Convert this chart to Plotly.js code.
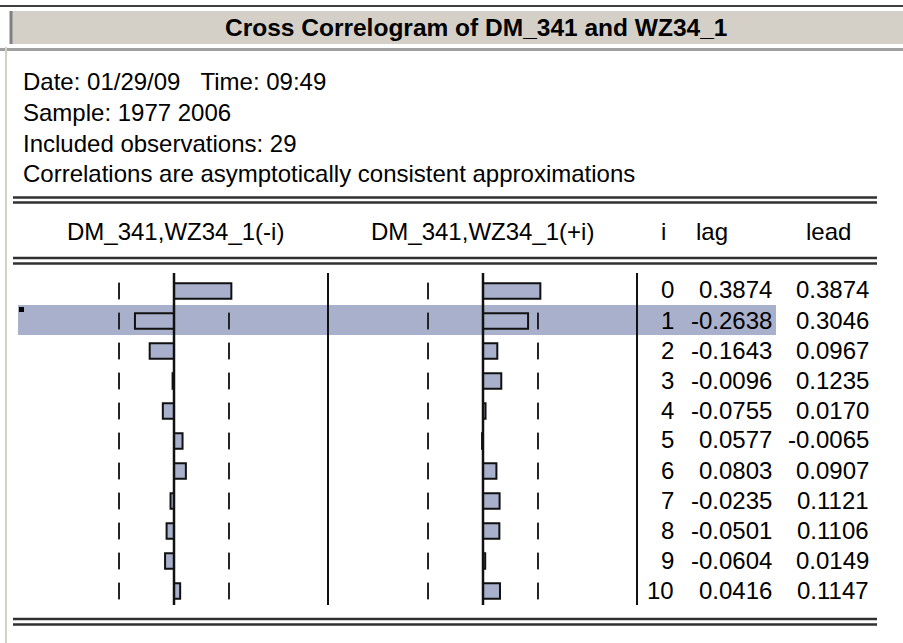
<!DOCTYPE html>
<html>
<head>
<meta charset="utf-8">
<script src="https://cdn.plot.ly/plotly-3.0.1.min.js"></script>
<style>html,body{margin:0;padding:0;background:#fff;}#chart{width:903px;height:643px;}</style>
</head>
<body>
<div id="chart"></div>
<script>
// ---- data ----
const title = "Cross Correlogram of DM_341 and WZ34_1";
const infoLines = [
  "Date: 01/29/09   Time: 09:49",
  "Sample: 1977 2006",
  "Included observations: 29",
  "Correlations are asymptotically consistent approximations"
];
const headers = ["DM_341,WZ34_1(-i)", "DM_341,WZ34_1(+i)", "i", "lag", "lead"];
const lagIndex = [0, 1, 2, 3, 4, 5, 6, 7, 8, 9, 10];
const lagCorr  = [0.3874, -0.2638, -0.1643, -0.0096, -0.0755, 0.0577, 0.0803, -0.0235, -0.0501, -0.0604, 0.0416];
const leadCorr = [0.3874, 0.3046, 0.0967, 0.1235, 0.0170, -0.0065, 0.0907, 0.1121, 0.1106, 0.0149, 0.1147];
const nObs = 29;
const selectedRow = 1;

// ---- geometry helpers (pixel -> paper) ----
const W = 903, H = 643;
const px = x => x / W;
const py = y => 1 - y / H;
const bound = 2 / Math.sqrt(nObs);
const SCALE = 148;          // px per correlation unit
const ROW0 = 291, ROWH = 30; // row 0 centre (px), row spacing
const zeroL = 174, zeroR = 483, sep1 = 328, sep2 = 637;

const font = "Liberation Sans, Arial, sans-serif";
const barFill = "#a9b0cb";

const traces = [
  {type: "bar", orientation: "h", x: lagCorr, y: lagIndex, xaxis: "x", yaxis: "y",
   width: 0.52, marker: {color: barFill, line: {color: "#111", width: 2}}, hoverinfo: "skip"},
  {type: "bar", orientation: "h", x: leadCorr, y: lagIndex, xaxis: "x2", yaxis: "y",
   width: 0.52, marker: {color: barFill, line: {color: "#111", width: 2}}, hoverinfo: "skip"}
];
// significance bound ticks (hidden where a bar covers them)
[["x", -1, lagCorr], ["x", 1, lagCorr], ["x2", -1, leadCorr], ["x2", 1, leadCorr]].forEach(([ax, s, vals]) => {
  const ys = lagIndex.filter((k, r) => !(vals[r] * s >= bound));
  traces.push({type: "scatter", mode: "markers", xaxis: ax, yaxis: "y",
    x: ys.map(() => s * bound), y: ys,
    marker: {symbol: "line-ns", size: 12, line: {color: "#222", width: 2}}, hoverinfo: "skip"});
});

const shapes = [];
const line = (x0, y0, x1, y1, color, w) => shapes.push({type: "line", xref: "paper", yref: "paper",
  x0: px(x0), y0: py(y0), x1: px(x1), y1: py(y1), line: {color: color, width: w}});
const rect = (x0, y0, x1, y1, color, layer) => shapes.push({type: "rect", xref: "paper", yref: "paper",
  x0: px(x0), y0: py(y0), x1: px(x1), y1: py(y1), fillcolor: color, line: {width: 0}, layer: layer || "below"});

// window chrome
line(0, 6, W, 6, "#404040", 2);
rect(10, 11, W, 44, "#d4d0c8");
line(11, 11, 11, 44, "#808080", 3);
line(10, 45, W, 45, "#ffffff", 2);
line(0, 49.5, W, 49.5, "#a0a0a0", 3);
line(6, 47, 6, H, "#d4d0c8", 2);
// table rules
[197.5, 202.5, 258, 263.5, 619, 624.5].forEach(y => line(13, y, 877, y, "#303030", 2.5));
// highlight of selected row
rect(18, ROW0 + ROWH * selectedRow - 16, 776, ROW0 + ROWH * selectedRow + 14, barFill);
rect(19, 307, 24, 312, "#000000", "above");
// panel separators
line(sep1, 273, sep1, 605, "#111", 2);
line(sep2, 273, sep2, 605, "#111", 2);
// zero lines (data coordinates)
const yTop = (273 - ROW0) / ROWH, yBot = (605 - ROW0) / ROWH;
shapes.push({type: "line", xref: "x", yref: "y", x0: 0, x1: 0, y0: yTop, y1: yBot, line: {color: "#111", width: 2.5}, layer: "above"});
shapes.push({type: "line", xref: "x2", yref: "y", x0: 0, x1: 0, y0: yTop, y1: yBot, line: {color: "#111", width: 2.5}, layer: "above"});

const annotations = [];
const ann = (text, x, y, anchor, size, extra) => annotations.push(Object.assign({
  text: text, xref: "paper", yref: "paper", x: px(x), y: py(y), xanchor: anchor, yanchor: "middle",
  showarrow: false, font: {family: font, size: size, color: "#000"}}, extra || {}));

ann("<b>" + title + "</b>", 476, 27.5, "center", 24.5);
infoLines.forEach((t, k) => ann(t.replace(/ {2,}/g, m => "&nbsp;".repeat(m.length)), 21, 82 + k * 30.5, "left", 24));
ann(headers[0], zeroL + 1, 231, "center", 24);
ann(headers[1], zeroR, 231, "center", 24);
ann(headers[2], 668, 231, "right", 24);
ann(headers[3], 730, 231, "right", 24);
ann(headers[4], 853, 231, "right", 24);
lagIndex.forEach((k, r) => {
  const yc = ROW0 + ROWH * r - 1;
  ann(String(k), 676, yc, "right", 24);
  ann(lagCorr[r].toFixed(4), 774, yc, "right", 24);
  ann(leadCorr[r].toFixed(4), 871, yc, "right", 24);
});

const layout = {
  width: W, height: H, margin: {l: 0, r: 0, t: 0, b: 0},
  paper_bgcolor: "#fff", plot_bgcolor: "rgba(0,0,0,0)", showlegend: false, barmode: "overlay",
  xaxis:  {domain: [0, px(sep1)], range: [-zeroL / SCALE, (sep1 - zeroL) / SCALE], visible: false, fixedrange: true},
  xaxis2: {domain: [px(sep1), px(sep2)], range: [(sep1 - zeroR) / SCALE, (sep2 - zeroR) / SCALE], visible: false, fixedrange: true},
  yaxis:  {domain: [0, 1], range: [(H - ROW0) / ROWH, -ROW0 / ROWH], visible: false, fixedrange: true},
  shapes: shapes, annotations: annotations
};
Plotly.newPlot("chart", traces, layout, {staticPlot: true, displayModeBar: false});
</script>
</body>
</html>
